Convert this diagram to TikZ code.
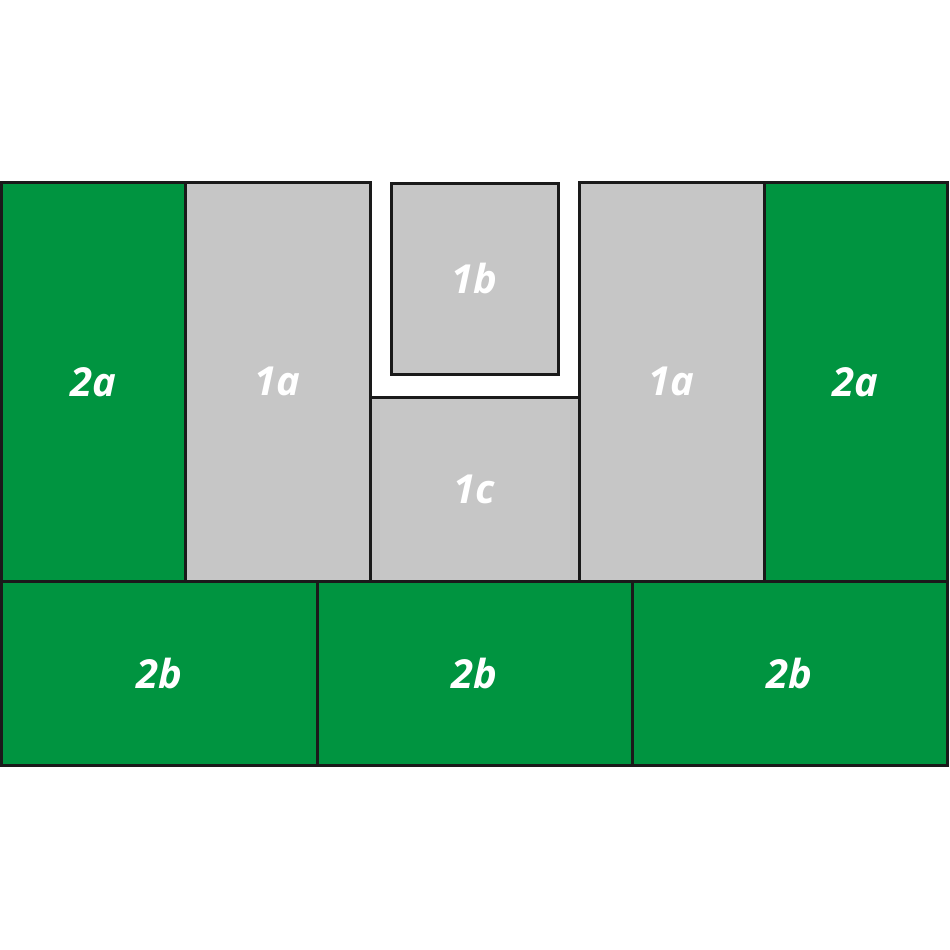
\documentclass[tikz,border=0pt]{standalone}
\usepackage{fontspec}
\setmainfont{Open Sans}
\definecolor{cgreen}{RGB}{0,148,64}
\definecolor{cgray}{RGB}{198,198,198}
\definecolor{cline}{RGB}{26,26,26}
\begin{document}
\begin{tikzpicture}[x=1pt,y=-1pt,
  cell/.style={draw=cline, line width=3pt, inner sep=0pt, rectangle,
    text=white, font=\fontsize{40}{48}\selectfont\bfseries\itshape},
  gcell/.style={cell, fill=cgreen},
  scell/.style={cell, fill=cgray}]
\useasboundingbox (0,0) rectangle (950,950);
\fill[white] (0,0) rectangle (950,950);
\node[gcell, minimum width=183.5pt, minimum height=398.5pt] (l2a) at (93.25,381.75) {2a};
\node[scell, minimum width=185pt, minimum height=398.5pt] (l1a) at (277.5,381.75) {1a};
\node[scell, minimum width=167pt, minimum height=191pt] (c1b) at (474.5,278.5) {1b};
\node[scell, minimum width=209pt, minimum height=183.5pt] (c1c) at (474.5,489.25) {1c};
\node[scell, minimum width=185pt, minimum height=398.5pt] (r1a) at (671.5,381.75) {1a};
\node[gcell, minimum width=183.5pt, minimum height=398.5pt] (r2a) at (855.75,381.75) {2a};
\node[gcell, minimum width=315.5pt, minimum height=184pt] (b1) at (159.25,673) {2b};
\node[gcell, minimum width=315pt, minimum height=184pt] (b2) at (474.5,673) {2b};
\node[gcell, minimum width=315.5pt, minimum height=184pt] (b3) at (789.75,673) {2b};
\end{tikzpicture}
\end{document}
